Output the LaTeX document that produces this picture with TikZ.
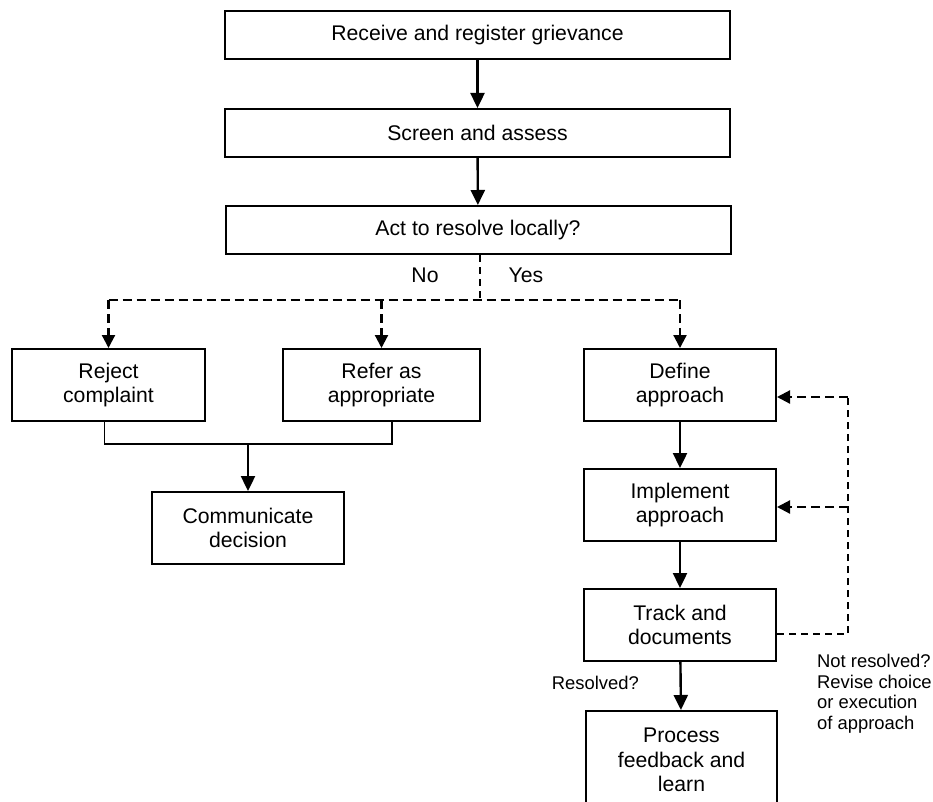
\documentclass[tikz,border=0pt]{standalone}
\usepackage{fontspec}
\setmainfont{Liberation Sans}
\usetikzlibrary{arrows.meta,calc}
\begin{document}
\begin{tikzpicture}[x=1pt,y=-1pt,
  box/.style={draw,line width=2pt,align=center,inner sep=0pt,
    font=\fontsize{21.2}{24.4}\selectfont},
  widebox/.style={box,minimum width=505pt,minimum height=48pt},
  stepbox/.style={box,minimum width=193pt,minimum height=72pt},
  tip/.style={-{Triangle[length=15pt,width=14pt]}},
  dtip/.style={-{Triangle[length=13pt,width=13pt]}},
  flow/.style={line width=2.4pt,tip},
  mergeline/.style={line width=1.4pt},
  branch/.style={line width=2.2pt,dash pattern=on 9pt off 5pt},
  thindash/.style={line width=1.3pt,dash pattern=on 7pt off 5pt},
  lbl/.style={font=\fontsize{21.2}{24.4}\selectfont,inner sep=0pt},
  note/.style={font=\fontsize{18.4}{20.6}\selectfont,inner sep=0pt,align=left}
]
\useasboundingbox (0,0) rectangle (933,802);
\clip (0,0) rectangle (933,802);

% main chain
\node[widebox] (receive) at (477.5,35) {Receive and register grievance};
\node[widebox] (screen)  at (477.5,133) {Screen and assess};
\node[widebox] (act)     at (478,230) {Act to resolve locally?};

% outcomes
\node[stepbox] (reject) at (108.5,385) {Reject\\complaint};
\node[stepbox,minimum width=197pt] (refer) at (381.5,385) {Refer as\\appropriate};
\node[stepbox,minimum width=192pt] (comm) at (248,528) {Communicate\\decision};

\node[stepbox,minimum width=192pt] (define) at (680,385) {Define\\approach};
\node[stepbox,minimum width=192pt] (impl)   at (680,505) {Implement\\approach};
\node[stepbox,minimum width=192pt] (track)  at (680,625) {Track and\\documents};
\node[stepbox,minimum width=191pt,minimum height=98pt] (proc) at (681.5,760)
  {Process\\feedback and\\learn};

% solid flow
\draw[flow] (receive) -- (screen);
\draw[flow] (screen) -- (act);
\draw[flow] (define) -- (impl);
\draw[flow] (impl) -- (track);
\draw[flow] (track) -- (proc);

% decision branches
\coordinate (split) at (480,300);
\draw[thindash] ($(act.south)+(2,0)$) -- (split);
\draw[branch] (reject.north |- split) -- (define.north |- split);
\draw[branch,dtip] (reject.north |- split) -- (reject.north);
\draw[branch,dtip] (refer.north |- split) -- (refer.north);
\draw[branch,dtip] (define.north |- split) -- (define.north);
\node[lbl] at (425,275) {No};
\node[lbl] at (526,275) {Yes};

% rejected or referred cases merge
\coordinate (merge) at (248,444);
\draw[mergeline] ($(reject.south)+(-4,0)$) |- (merge)
  -| ($(refer.south)+(10.5,0)$);
\draw[flow] (merge) -- (comm.north);

% revision loop
\coordinate (loop) at (848,634);
\draw[thindash] ($(track.east)+(0,9)$) -- (loop)
  -- ($(loop |- define.east)+(0,12)$);
\draw[branch,dtip] ($(loop |- define.east)+(0,12)$) -- ($(define.east)+(0,12)$);
\draw[branch,dtip] ($(loop |- impl.east)+(0,2)$) -- ($(impl.east)+(0,2)$);

\node[note,anchor=east] at (639,683) {Resolved?};
\node[note,anchor=north west] at (817,654)
  {Not resolved?\\Revise choice\\or execution\\of approach};
\end{tikzpicture}
\end{document}
